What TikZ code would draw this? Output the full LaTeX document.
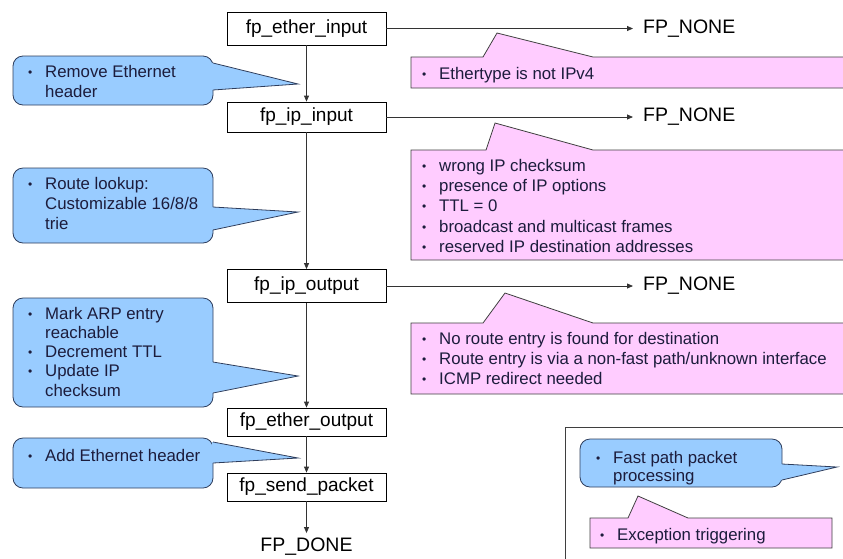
\documentclass[tikz,border=0pt]{standalone}
\usepackage{fontspec}
\setmainfont{Liberation Sans}
\usetikzlibrary{arrows.meta}
\definecolor{noteblue}{HTML}{99CCFF}
\definecolor{noteblueedge}{HTML}{2E3D5C}
\definecolor{notepink}{HTML}{FFCCFF}
\definecolor{notepinkedge}{HTML}{3F3F3F}
\definecolor{notetext}{HTML}{1C1C3C}
\definecolor{flowline}{HTML}{333333}
\newcommand{\bul}{\makebox[18pt][l]{\hspace*{1pt}\raisebox{1.2pt}{\fontsize{12}{12}\selectfont\textbullet}}}
\newcommand{\ind}{\hspace*{18pt}}
\begin{document}
\begin{tikzpicture}[x=1pt,y=-1pt,
  fnbox/.style={draw=black, line width=0.8pt, fill=white, minimum width=159pt,
    inner sep=0pt, font=\fontsize{19}{22}\selectfont},
  flow/.style={draw=flowline, line width=0.8pt, -{Triangle[length=6pt,width=5pt]}},
  result/.style={inner sep=0pt, font=\fontsize{19.5}{22}\selectfont},
  bluenote/.style={fill=noteblue, draw=noteblueedge, line width=0.8pt},
  pinknote/.style={fill=notepink, draw=notepinkedge, line width=0.8pt},
  notetxt/.style={inner sep=0pt, anchor=north west, align=left, text=notetext},
]
\useasboundingbox (0,0) rectangle (843,558);
\clip (0,0) rectangle (843,558);

% legend frame
\draw[draw=notepinkedge, line width=0.8pt] (565,427) rectangle (860,580);

% processing stages
\node[fnbox, minimum height=33pt] (ei) at (306.5,28.5) {fp\_ether\_input};
\node[fnbox, minimum height=30pt] (ii) at (306.5,117) {fp\_ip\_input};
\node[fnbox, minimum height=33pt] (io) at (306.5,286) {fp\_ip\_output};
\node[fnbox, minimum height=28pt] (eo) at (306.5,422) {fp\_ether\_output};
\node[fnbox, minimum height=28pt] (sp) at (306.5,487) {fp\_send\_packet};
\node[result] (done) at (306.5,547) {FP\_DONE};

\node[result, anchor=west] (n1) at (643,28.5) {FP\_NONE};
\node[result, anchor=west] (n2) at (643,117) {FP\_NONE};
\node[result, anchor=west] (n3) at (643,286) {FP\_NONE};

% main path
\draw[flow] (ei) -- (ii);
\draw[flow] (ii) -- (io);
\draw[flow] (io) -- (eo);
\draw[flow] (eo) -- (sp);
\draw[flow, shorten >=5pt] (sp) -- (done);

% exception exits
\draw[flow, shorten >=10pt] (ei) -- (n1);
\draw[flow, shorten >=10pt] (ii) -- (n2);
\draw[flow, shorten >=10pt] (io) -- (n3);

% blue notes: rounded box with a pointer on the right
\newcommand{\bluecallout}[8]{%
  \draw[bluenote, rounded corners=10pt] (#1,#2) rectangle (#3,#4);
  \fill[noteblue] (#3-1,#5) -- (#7,#8) -- (#3-1,#6) -- cycle;
  \draw[draw=noteblueedge, line width=0.8pt] (#3,#5) -- (#7,#8) -- (#3,#6);
}
\bluecallout{13}{56}{213}{105}{63}{90}{298}{84}
\bluecallout{13}{168}{213}{243}{207}{230}{298}{212}
\bluecallout{13}{298}{213}{407}{362}{393}{298}{376}
\bluecallout{13}{438}{213}{488}{442}{463}{298}{458}
\bluecallout{580}{439}{782}{487}{464}{480}{837}{467}

% pink notes: plain box with a pointer on top
\draw[pinknote] (411,57) -- (483,57) -- (497,33) -- (593,57) -- (860,57)
  -- (860,88) -- (411,88) -- cycle;
\draw[pinknote] (411,150) -- (486,150) -- (495,123) -- (593,150) -- (860,150)
  -- (860,260) -- (411,260) -- cycle;
\draw[pinknote] (411,323) -- (483,323) -- (505,293) -- (593,323) -- (860,323)
  -- (860,394) -- (411,394) -- cycle;
\draw[pinknote] (590,518) -- (628,518) -- (638,496) -- (688,518) -- (832,518)
  -- (832,548) -- (590,548) -- cycle;

% note texts
\begin{scope}[every node/.append style={font=\fontsize{16.8}{20}\selectfont}]
\node[notetxt] (t1) at (27,65) {\bul Remove Ethernet\\\ind header};
\node[notetxt] (t2) at (27,177) {\bul Route lookup:\\\ind Customizable 16/8/8\\\ind trie};
\node[notetxt, font=\fontsize{16.8}{19.2}\selectfont] (t3) at (27,307)
  {\bul Mark ARP entry\\\ind reachable\\\bul Decrement TTL\\\bul Update IP\\\ind checksum};
\node[notetxt] (t4) at (27,449) {\bul Add Ethernet header};
\node[notetxt] (p1) at (421,67) {\bul Ethertype is not IPv4};
\node[notetxt, font=\fontsize{16.8}{20.3}\selectfont] (p2) at (421,159)
  {\bul wrong IP checksum\\\bul presence of IP options\\\bul TTL = 0\\
   \bul broadcast and multicast frames\\\bul reserved IP destination addresses};
\node[notetxt] (p3) at (421,332)
  {\bul No route entry is found for destination\\
   \bul Route entry is via a non-fast path/unknown interface\\
   \bul ICMP redirect needed};
\node[notetxt, font=\fontsize{16.8}{18}\selectfont] (l1) at (595,451)
  {\bul Fast path packet\\\ind processing};
\node[notetxt] (l2) at (599,528) {\bul Exception triggering};
\end{scope}
\end{tikzpicture}
\end{document}
